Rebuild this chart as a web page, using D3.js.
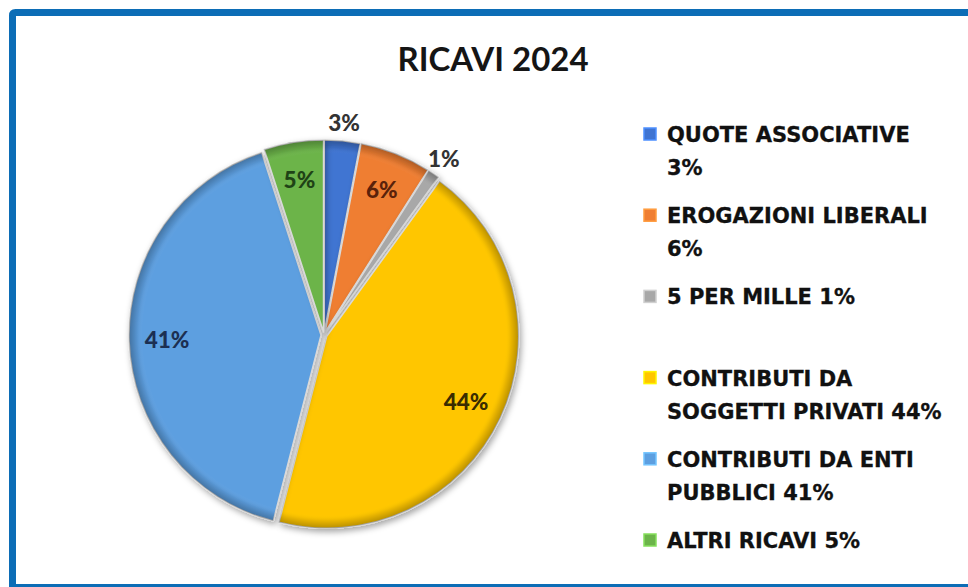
<!DOCTYPE html>
<html>
<head>
<meta charset="utf-8">
<script src="https://cdn.jsdelivr.net/npm/d3@7"></script>
<style>
  html, body { margin: 0; padding: 0; background: #ffffff; overflow: hidden; }
  svg { display: block; }
</style>
</head>
<body>
<svg id="chart" width="968" height="587"></svg>
<script>
// ---- data ----
const title = "RICAVI 2024";
const categories = ["QUOTE ASSOCIATIVE", "EROGAZIONI LIBERALI", "5 PER MILLE",
  "CONTRIBUTI DA SOGGETTI PRIVATI", "CONTRIBUTI DA ENTI PUBBLICI", "ALTRI RICAVI"];
const values = [3, 6, 1, 44, 41, 5];
const sliceColors = ["#3f74d2", "#ef7e32", "#a8a8a8", "#ffc600", "#5d9fe0", "#6cb44a"];
const labelColors = ["#333333", "#5a220a", "#333333", "#3a2c00", "#1c2f52", "#1f4316"];
const labelOutside = [true, false, true, false, false, false];
const legendLines = [
  ["QUOTE ASSOCIATIVE", "3%"],
  ["EROGAZIONI LIBERALI", "6%"],
  ["5 PER MILLE 1%"],
  ["CONTRIBUTI DA", "SOGGETTI PRIVATI 44%"],
  ["CONTRIBUTI DA ENTI", "PUBBLICI 41%"],
  ["ALTRI RICAVI 5%"]
];

// ---- layout ----
const svg = d3.select("#chart");
const W = 968, H = 587;
const cx = 324, cy = 335, R = 192;
const explode = 3;

// frame (top, left and bottom edges visible; right edge is cut off)
svg.append("path")
  .attr("d", `M${W + 10},12.5 L15.5,12.5 Q12.5,12.5 12.5,15.5 L12.5,${H + 10}`)
  .attr("fill", "none")
  .attr("stroke", "#0c6db6")
  .attr("stroke-width", 7);
svg.append("line")
  .attr("x1", 9).attr("x2", W)
  .attr("y1", 585.5).attr("y2", 585.5)
  .attr("stroke", "#0c6db6")
  .attr("stroke-width", 3);

// title
svg.append("text")
  .attr("x", 493).attr("y", 71)
  .attr("text-anchor", "middle")
  .attr("font-family", "Lato, 'Open Sans', sans-serif")
  .attr("font-weight", "bold")
  .attr("font-size", 33)
  .attr("fill", "#151515")
  .text(title);

const defs = svg.append("defs");
const shadow = defs.append("filter").attr("id", "shadow")
  .attr("x", "-20%").attr("y", "-20%").attr("width", "140%").attr("height", "140%");
shadow.append("feDropShadow")
  .attr("dx", 2).attr("dy", 3).attr("stdDeviation", 3)
  .attr("flood-color", "#000").attr("flood-opacity", 0.35);

// rim shading gradient (bevel look)
const rim = defs.append("radialGradient").attr("id", "rim")
  .attr("gradientUnits", "userSpaceOnUse")
  .attr("cx", 0).attr("cy", 0).attr("r", R);
rim.append("stop").attr("offset", "0%").attr("stop-color", "#fff").attr("stop-opacity", 0);
rim.append("stop").attr("offset", "93%").attr("stop-color", "#fff").attr("stop-opacity", 0);
rim.append("stop").attr("offset", "96%").attr("stop-color", "#000").attr("stop-opacity", 0.08);
rim.append("stop").attr("offset", "100%").attr("stop-color", "#000").attr("stop-opacity", 0.28);

const pie = d3.pie().sort(null).value(d => d);
const arcs = pie(values);
const arc = d3.arc().innerRadius(0).outerRadius(R);
const inLabelArc = d3.arc().innerRadius(157).outerRadius(157);
const outLabelArc = d3.arc().innerRadius(213).outerRadius(213);

const g = svg.append("g").attr("transform", `translate(${cx},${cy})`);

const slices = g.selectAll("g.slice").data(arcs).join("g")
  .attr("class", "slice")
  .attr("transform", d => {
    const a = (d.startAngle + d.endAngle) / 2;
    return `translate(${explode * Math.sin(a)},${-explode * Math.cos(a)})`;
  })
  .attr("filter", "url(#shadow)");

slices.append("path")
  .attr("d", arc)
  .attr("fill", (d, i) => sliceColors[i])
  .attr("stroke", "#d9d9d9")
  .attr("stroke-width", 1.5)
  .attr("stroke-linejoin", "round");

slices.append("path")
  .attr("d", arc)
  .attr("fill", "url(#rim)")
  .attr("stroke", "none");

// data labels
g.selectAll("text.lbl").data(arcs).join("text")
  .attr("class", "lbl")
  .attr("transform", (d, i) => {
    const c = labelOutside[i] ? outLabelArc.centroid(d) : inLabelArc.centroid(d);
    return `translate(${c[0]},${c[1]})`;
  })
  .attr("text-anchor", "middle")
  .attr("dominant-baseline", "central")
  .attr("font-family", "Lato, 'Open Sans', sans-serif")
  .attr("font-weight", 900)
  .attr("font-size", 22.5)
  .attr("fill", (d, i) => labelColors[i])
  .text(d => d.data + "%");

// legend
const legend = svg.append("g");
const legendX = 667, legendY0 = 142, itemStep = 81.2, lineStep = 33;
const items = legend.selectAll("g.item").data(legendLines).join("g")
  .attr("class", "item")
  .attr("transform", (d, i) => `translate(${legendX},${legendY0 + i * itemStep})`);

items.append("rect")
  .attr("x", -23).attr("y", -14)
  .attr("width", 12).attr("height", 12)
  .attr("fill", (d, i) => sliceColors[i])
  .attr("stroke", (d, i) => d3.color(sliceColors[i]).brighter(0.6))
  .attr("stroke-width", 1.5);

items.append("text")
  .attr("font-family", "'DejaVu Sans', sans-serif")
  .attr("font-weight", "bold")
  .attr("font-size", 21)
  .attr("fill", "#111111")
  .attr("stroke", "#111111")
  .attr("stroke-width", 0.3)
  .selectAll("tspan").data(d => d).join("tspan")
  .attr("x", 0)
  .attr("y", (d, j) => j * lineStep)
  .text(d => d);
</script>
</body>
</html>
